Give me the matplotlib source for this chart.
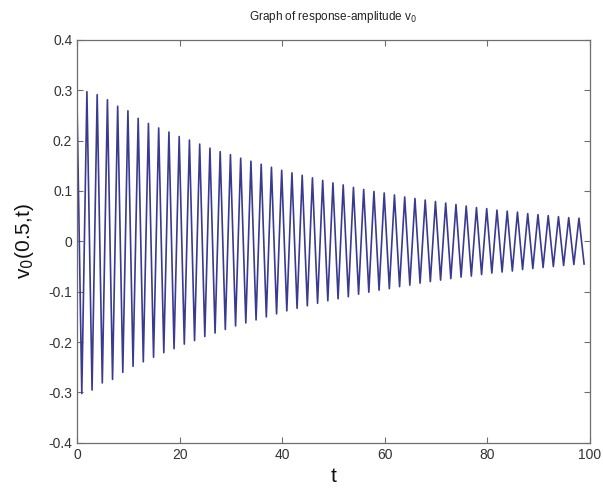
import numpy as np
import matplotlib
matplotlib.use('Agg')
from matplotlib import pyplot as plt

# extrema of the response
start_t = 0.0
start_v = 0.255

peak_t = np.arange(1.9, 98.0, 2.0)
peak_v = [0.297, 0.291, 0.281, 0.268, 0.259, 0.244, 0.234, 0.225, 0.217, 0.208,
          0.201, 0.193, 0.185, 0.178, 0.172, 0.165, 0.159, 0.153, 0.147, 0.141,
          0.136, 0.131, 0.126, 0.121, 0.116, 0.112, 0.107, 0.103, 0.099, 0.096,
          0.092, 0.088, 0.085, 0.082, 0.079, 0.076, 0.073, 0.070, 0.067, 0.065,
          0.062, 0.060, 0.058, 0.055, 0.053, 0.051, 0.049, 0.047, 0.046]

trough_t = np.arange(0.9, 100.0, 2.0)
trough_v = [-0.302, -0.295, -0.281, -0.274, -0.260, -0.248, -0.239, -0.230, -0.221, -0.213,
            -0.204, -0.197, -0.189, -0.182, -0.175, -0.168, -0.162, -0.156, -0.150, -0.144,
            -0.138, -0.133, -0.128, -0.123, -0.118, -0.114, -0.110, -0.105, -0.101, -0.097,
            -0.094, -0.090, -0.087, -0.083, -0.080, -0.077, -0.074, -0.071, -0.069, -0.066,
            -0.063, -0.061, -0.059, -0.056, -0.054, -0.052, -0.050, -0.048, -0.046, -0.045]

x_ticks = [0, 20, 40, 60, 80, 100]
y_ticks = [-0.4, -0.3, -0.2, -0.1, 0, 0.1, 0.2, 0.3, 0.4]
y_tick_labels = ['-0.4', '-0.3', '-0.2', '-0.1', '0', '0.1', '0.2', '0.3', '0.4']

plt.rcParams['font.family'] = ['Liberation Sans', 'DejaVu Sans']

# merge extrema in time order
t = np.concatenate([[start_t], peak_t, trough_t])
v = np.concatenate([[start_v], peak_v, trough_v])
order = np.argsort(t)
t, v = t[order], v[order]

fig = plt.figure(figsize=(6.03, 4.91), dpi=100)
ax = fig.add_axes([0.128, 0.098, 0.850, 0.821])

ax.plot(t, v, color='#3a3a90', linewidth=1.2)

ax.set_xlim(0, 100)
ax.set_ylim(-0.4, 0.4)
ax.set_xticks(x_ticks)
ax.set_yticks(y_ticks)
ax.set_yticklabels(y_tick_labels)
ax.tick_params(direction='in', length=4, width=0.8, colors='#6e6e6e',
               labelcolor='#333333', labelsize=10, top=True, right=True)
for s in ax.spines.values():
    s.set_color('#6e6e6e')
    s.set_linewidth(0.9)

ax.set_title('Graph of response-amplitude v$_0$', fontsize=8.5, color='#222222', pad=14)
ax.set_xlabel('t', fontsize=15, color='#111111', labelpad=4)
ax.set_ylabel('v$_0$(0.5,t)', fontsize=15, color='#111111', labelpad=9)

fig.savefig('out.png', dpi=100)
